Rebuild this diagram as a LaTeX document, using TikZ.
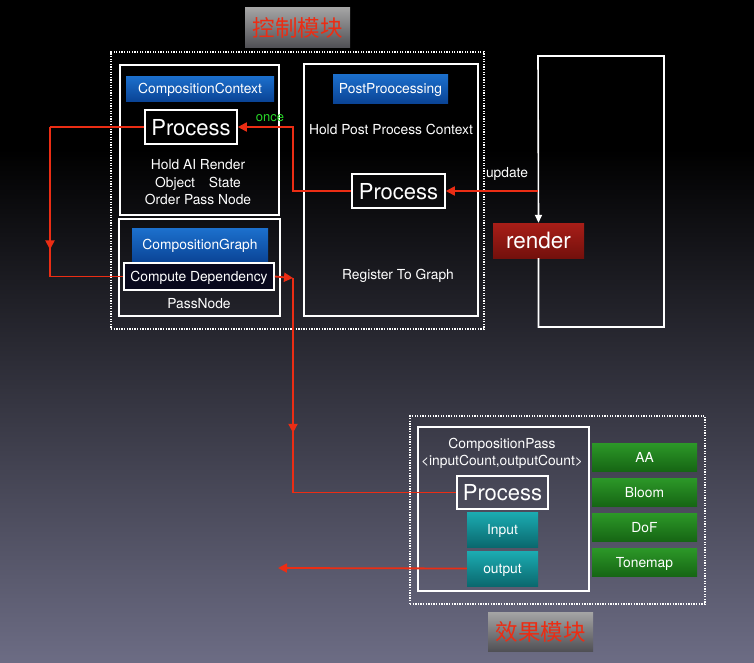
\documentclass[tikz,border=0pt]{standalone}
\usepackage{fontspec}
\setmainfont{TeX Gyre Heros}
\newfontfamily\cjk{Noto Sans CJK SC}
\usetikzlibrary{arrows.meta,decorations.markings}

\definecolor{flowred}{RGB}{235,45,20}
\definecolor{oncegreen}{RGB}{40,215,40}
\definecolor{boxdark}{RGB}{8,8,28}

\begin{document}
\begin{tikzpicture}[x=1pt,y=-1pt,
    panel/.style={draw=white,line width=1.6pt,inner sep=0pt},
    frame/.style={draw=white,line width=1.8pt,dash pattern=on 1.3pt off 1.3pt,inner sep=0pt},
    bluelab/.style={top color={rgb,255:red,28;green,112;blue,205},bottom color={rgb,255:red,10;green,68;blue,150},
        text=white,inner sep=0pt,text depth=0pt,font=\fontsize{13.8}{16}\selectfont},
    procbox/.style={draw=white,line width=1.6pt,text=white,inner sep=0pt,text depth=0pt,font=\fontsize{22}{25}\selectfont},
    wtext/.style={text=white,align=center,font=\fontsize{13.8}{17.5}\selectfont},
    tealbox/.style={top color={rgb,255:red,28;green,172;blue,178},bottom color={rgb,255:red,10;green,104;blue,110},
        text=white,inner sep=0pt,text depth=0pt,minimum width=71pt,minimum height=35pt,font=\fontsize{13.8}{16}\selectfont},
    effbox/.style={top color={rgb,255:red,44;green,152;blue,40},bottom color={rgb,255:red,22;green,102;blue,20},
        text=white,inner sep=0pt,text depth=0pt,minimum width=105pt,minimum height=28pt,font=\fontsize{13.8}{16}\selectfont},
    titlebox/.style={top color={rgb,255:red,165;green,165;blue,165},bottom color={rgb,255:red,80;green,80;blue,85},
        text=flowred,inner sep=0pt,minimum width=105pt,font=\cjk\fontsize{22.5}{24}\selectfont},
    flow/.style={draw=flowred,line width=1.8pt},
    flowto/.style={flow,-{Triangle[length=9pt,width=9pt]}},
    midtip/.style={flow,postaction=decorate,decoration={markings,
        mark=at position #1 with {\arrow[flowred]{Triangle[length=9pt,width=9pt]}}}}]

    % background
    \useasboundingbox (0,0) rectangle (754,662);
    \fill[black] (0,0) rectangle (754,150);
    \shade[top color=black,middle color={rgb,255:red,30;green,30;blue,64},bottom color={rgb,255:red,108;green,108;blue,132}]
        (0,149) rectangle (754,662);

    % Control module
    \node[titlebox,minimum height=40pt] (ctltitle) at (297.5,27.5) {控制模块};
    \node[frame,minimum width=373pt,minimum height=277pt] (ctlframe) at (297.5,190.5) {};

    \node[panel,minimum width=159pt,minimum height=150pt] (ctxpanel) at (199.5,140) {};
    \node[bluelab,minimum width=148pt,minimum height=25pt] (ctxlab) at (200,88.5) {CompositionContext};
    \node[procbox,minimum width=92pt,minimum height=34pt] (ctxproc) at (191,127) {Process};
    \node[wtext] (ctxtext) at (198,182.5) {Hold AI Render\\ Object\quad State\\Order Pass Node};

    \node[panel,minimum width=161pt,minimum height=97pt] (graphpanel) at (199.5,267.5) {};
    \node[bluelab,minimum width=136pt,minimum height=34pt,anchor=north] (graphlab) at (200,228) {};
    \node[wtext] (graphtext) at (200,245.5) {CompositionGraph};
    \node[procbox,fill=boxdark,minimum width=150pt,minimum height=27pt,font=\fontsize{13.8}{16}\selectfont] (compute) at (199,276.5) {Compute Dependency};
    \node[wtext] (passnode) at (199,303.5) {PassNode};

    \node[panel,minimum width=174pt,minimum height=252pt] (postpanel) at (391,190) {};
    \node[bluelab,minimum width=115pt,minimum height=29pt] (postlab) at (390.5,88.5) {PostProocessing};
    \node[wtext] (posttext) at (391,129.5) {Hold Post Process Context};
    \node[procbox,minimum width=93pt,minimum height=34pt] (postproc) at (398.5,191) {Process};
    \node[wtext] (register) at (398,275.5) {Register To Graph};

    % render loop
    \coordinate (loopbr) at (664,327);
    \coordinate (looptl) at (538,56);
    \node[top color={rgb,255:red,168;green,30;blue,24},bottom color={rgb,255:red,115;green,16;blue,12},
          text=white,inner sep=0pt,text depth=0pt,minimum width=91pt,minimum height=35pt,
          font=\fontsize{22.5}{25}\selectfont] (render) at (538.5,240.5) {render};
    \draw[white,line width=1.6pt,-{Triangle[length=8pt,width=7pt]}]
        (render.south) |- (loopbr) |- (looptl) -- (render.north);
    \coordinate (updstart) at (538,191);
    \node[text=white,font=\fontsize{13.8}{16}\selectfont] (update) at (507,174) {update};

    % flows
    \draw[flowto] (updstart) -- (postproc.east);
    \coordinate (oncebend) at (293,191);
    \draw[flowto] (postproc.west) -- (oncebend) |- (ctxproc.east);
    \node[text=oncegreen,font=\fontsize{13}{15}\selectfont] (once) at (270,118) {once};

    \coordinate (leftbend) at (50,127);
    \draw[flow] (ctxproc.west) -- (leftbend);
    \draw[midtip=0.55] (leftbend) |- (compute.west);

    % Effect module
    \node[frame,minimum width=295pt,minimum height=188pt] (effframe) at (557.5,510) {};
    \node[panel,minimum width=171pt,minimum height=164pt] (passpanel) at (503.5,509) {};
    \node[wtext,font=\fontsize{13.8}{17}\selectfont] (passtitle) at (502,453.5) {CompositionPass\\<inputCount,outputCount>};
    \node[procbox,minimum width=91pt,minimum height=33pt] (passproc) at (502.5,492.5) {Process};
    \node[tealbox] (input) at (502.5,529.5) {Input};
    \node[tealbox] (output) at (502.5,568.5) {output};

    \node[effbox] (aa) at (644.5,457) {AA};
    \node[effbox] (bloom) at (644.5,492) {Bloom};
    \node[effbox] (dof) at (644.5,527) {DoF};
    \node[effbox] (tonemap) at (644.5,562) {Tonemap};

    \node[titlebox,minimum height=39pt] (efftitle) at (540.5,631.5) {效果模块};

    \coordinate (downbend) at (293,278);
    \draw[flowto] (compute.east) -- (downbend);
    \draw[midtip=0.41] (downbend) |- (passproc.west);

    \coordinate (outend) at (278,568);
    \draw[flowto] (output.west) -- (outend);
\end{tikzpicture}
\end{document}
